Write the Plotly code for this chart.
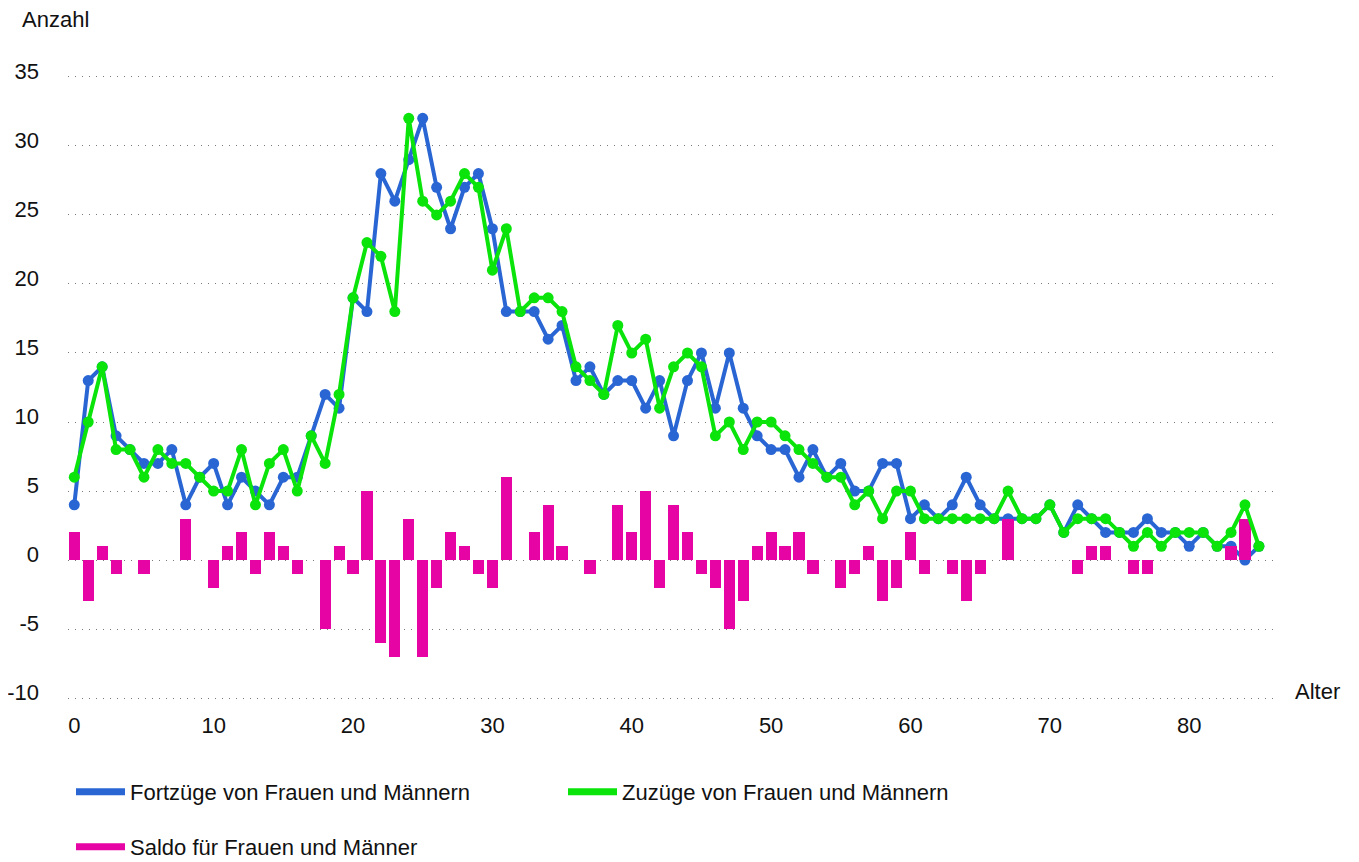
import plotly.graph_objects as go

# ---- data ----
alter = list(range(86))

fortzuege = [4, 13, 14, 9, 8, 7, 7, 8, 4, 6,
             7, 4, 6, 5, 4, 6, 6, 9, 12, 11,
             19, 18, 28, 26, 29, 32, 27, 24, 27, 28,
             24, 18, 18, 18, 16, 17, 13, 14, 12, 13,
             13, 11, 13, 9, 13, 15, 11, 15, 11, 9,
             8, 8, 6, 8, 6, 7, 5, 5, 7, 7,
             3, 4, 3, 4, 6, 4, 3, 3, 3, 3,
             4, 2, 4, 3, 2, 2, 2, 3, 2, 2,
             1, 2, 1, 1, 0, 1]

zuzuege = [6, 10, 14, 8, 8, 6, 8, 7, 7, 6,
           5, 5, 8, 4, 7, 8, 5, 9, 7, 12,
           19, 23, 22, 18, 32, 26, 25, 26, 28, 27,
           21, 24, 18, 19, 19, 18, 14, 13, 12, 17,
           15, 16, 11, 14, 15, 14, 9, 10, 8, 10,
           10, 9, 8, 7, 6, 6, 4, 5, 3, 5,
           5, 3, 3, 3, 3, 3, 3, 5, 3, 3,
           4, 2, 3, 3, 3, 2, 1, 2, 1, 2,
           2, 2, 1, 2, 4, 1]

saldo = [2, -3, 1, -1, 0, -1, 0, 0, 3, 0,
         -2, 1, 2, -1, 2, 1, -1, 0, -5, 1,
         -1, 5, -6, -7, 3, -7, -2, 2, 1, -1,
         -2, 6, 0, 2, 4, 1, 0, -1, 0, 4,
         2, 5, -2, 4, 2, -1, -2, -5, -3, 1,
         2, 1, 2, -1, 0, -2, -1, 1, -3, -2,
         2, -1, 0, -1, -3, -1, 0, 3, 0, 0,
         0, 0, -1, 1, 1, 0, -1, -1, 0, 0,
         0, 0, 0, 1, 3, 0]

y_ticks = [-10, -5, 0, 5, 10, 15, 20, 25, 30, 35]
y_ticktext = ["-10", "-5", "0", "5", "10", "15", "20", "25", "30", "35"]
x_ticks = [0, 10, 20, 30, 40, 50, 60, 70, 80]

name_fort = "Fortzüge von Frauen und Männern"
name_zu = "Zuzüge von Frauen und Männern"
name_saldo = "Saldo für Frauen und Männer"

# ---- styles ----
BLUE = "#2966D3"
GREEN = "#0AE40A"
PINK = "#E604A4"
FONT = "Liberation Sans, Arial, sans-serif"
TXT = "#111111"

# the page body has an 8px margin, so the figure is 8px smaller
W, H = 1351, 854

fig = go.Figure()

# blue line in the main subplot (lowest layer)
fig.add_trace(go.Scatter(x=alter, y=fortzuege, mode="lines+markers",
                         line=dict(color=BLUE, width=4),
                         marker=dict(color=BLUE, size=11),
                         showlegend=False, xaxis="x", yaxis="y"))
# bars and green line in an overlay subplot (above the blue line)
fig.add_trace(go.Bar(x=alter, y=saldo, marker=dict(color=PINK, line=dict(width=0)),
                     width=0.8, showlegend=False, xaxis="x", yaxis="y2"))
fig.add_trace(go.Scatter(x=alter, y=zuzuege, mode="lines+markers",
                         line=dict(color=GREEN, width=4),
                         marker=dict(color=GREEN, size=11),
                         showlegend=False, xaxis="x", yaxis="y2"))

# legend entries (line samples only)
for nm, col, lg in [(name_fort, BLUE, "legend"), (name_zu, GREEN, "legend2"),
                    (name_saldo, PINK, "legend3")]:
    fig.add_trace(go.Scatter(x=[None], y=[None], mode="lines", name=nm,
                             line=dict(color=col, width=7),
                             showlegend=True, legend=lg, xaxis="x", yaxis="y"))

yrange = [-10.5, 35.5]
legend_common = dict(orientation="h", xref="container", yref="container",
                     xanchor="left", yanchor="middle", bgcolor="rgba(0,0,0,0)",
                     borderwidth=0, itemwidth=49,
                     font=dict(family=FONT, size=22, color=TXT))

fig.update_layout(
    width=W, height=H,
    margin=dict(l=60, r=81, t=62, b=157, autoexpand=False),
    paper_bgcolor="white", plot_bgcolor="white",
    font=dict(family=FONT, size=22, color=TXT),
    xaxis=dict(range=[-0.45, 86.37], tickvals=x_ticks, showgrid=False,
               zeroline=False, showline=False, ticks="", automargin=False,
               ticklabelstandoff=5, tickfont=dict(size=22, color=TXT)),
    yaxis=dict(range=yrange, tickvals=y_ticks, ticktext=y_ticktext, showgrid=True,
               gridcolor="#7a7a7a", gridwidth=1, griddash="1px,6px",
               zeroline=False, showline=False, ticks="", automargin=False,
               ticklabelstandoff=28, ticklabelshift=-6,
               tickfont=dict(size=22, color=TXT)),
    yaxis2=dict(range=yrange, overlaying="y", visible=False, showgrid=False,
                zeroline=False, automargin=False),
    bargap=0,
    legend=dict(legend_common, x=(71 - 8) / W, y=1 - (792 - 8) / H),
    legend2=dict(legend_common, x=(563 - 8) / W, y=1 - (792 - 8) / H),
    legend3=dict(legend_common, x=(71 - 8) / W, y=1 - (847 - 8) / H),
    annotations=[
        dict(text="Anzahl", xref="paper", yref="paper", x=-0.0397, y=1.0803,
             xanchor="left", yanchor="middle", showarrow=False,
             font=dict(family=FONT, size=22, color=TXT)),
        dict(text="Alter", xref="paper", yref="paper", x=1.012, y=0.0205,
             xanchor="left", yanchor="middle", showarrow=False,
             font=dict(family=FONT, size=22, color=TXT)),
    ],
)

fig.write_html("out.html")
